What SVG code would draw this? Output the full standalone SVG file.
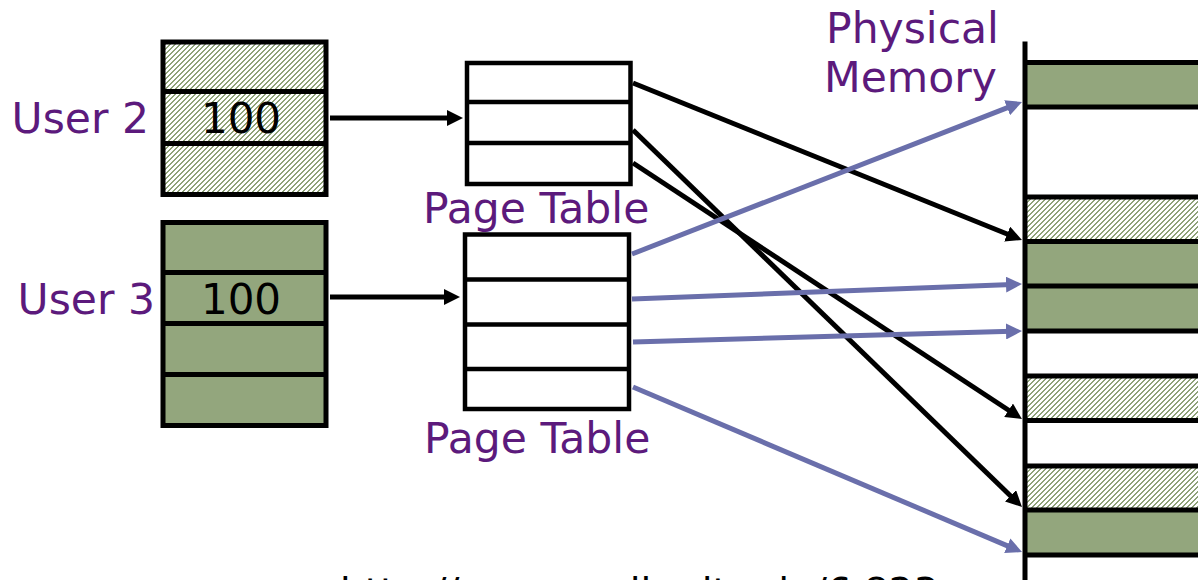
<svg xmlns="http://www.w3.org/2000/svg" width="1198" height="580" viewBox="0 0 1198 580">
  <style>
    .lbl { font-family: "DejaVu Sans", Verdana, sans-serif; font-size: 42.5px; fill: #5c1a7c; }
    .num { font-family: "DejaVu Sans", Verdana, sans-serif; font-size: 42px; fill: #000; }
    .url { font-family: "DejaVu Sans", Verdana, sans-serif; font-size: 39px; fill: #000; }
    .frame { fill: none; stroke: #000; stroke-width: 5; }
    .ptframe { fill: #fff; stroke: #000; stroke-width: 4.5; }
    .rule { stroke: #000; stroke-width: 5; }
    .ptrule { stroke: #000; stroke-width: 4.5; }
    .solid { fill: #93a67d; }
    .hatched { fill: url(#hatch); }
    .blk { stroke: #000; stroke-width: 5; fill: none; marker-end: url(#headBlack); }
    .blu { stroke: #6a6fab; stroke-width: 5; fill: none; marker-end: url(#headBlue); }
  </style>
  <defs>
    <!-- pixel-aligned diagonal stripes ("/") for shared/hatched pages -->
    <pattern id="hatch" x="0" y="0" width="5" height="5" patternUnits="userSpaceOnUse">
      <rect width="5" height="5" fill="#fff"/>
      <path d="M3,0h2v1h-2z M2,1h2v1h-2z M1,2h2v1h-2z M0,3h2v1h-2z M0,4h1v1h-1z M4,4h1v1h-1z" fill="#8fa378" shape-rendering="crispEdges"/>
    </pattern>
    <marker id="headBlack" markerUnits="userSpaceOnUse" markerWidth="16" markerHeight="16" viewBox="0 0 16 16" refX="6" refY="8" orient="auto">
      <path d="M0,0 L16,8 L0,16 z" fill="#000"/>
    </marker>
    <marker id="headBlue" markerUnits="userSpaceOnUse" markerWidth="16" markerHeight="16" viewBox="0 0 16 16" refX="6" refY="8" orient="auto">
      <path d="M0,0 L16,8 L0,16 z" fill="#6a6fab"/>
    </marker>
  </defs>

  <rect width="1198" height="580" fill="#fff"/>

  <!-- User 2 address space: three hatched pages -->
  <g id="user2">
    <rect x="163" y="42" width="163" height="152.5" class="hatched"/>
    <line x1="163" y1="91.5" x2="326" y2="91.5" class="rule"/>
    <line x1="163" y1="143.5" x2="326" y2="143.5" class="rule"/>
    <rect x="163" y="42" width="163" height="152.5" class="frame"/>
    <text x="241" y="133" text-anchor="middle" class="num">100</text>
    <text x="149" y="133" text-anchor="end" class="lbl">User 2</text>
  </g>

  <!-- User 3 address space: four solid pages -->
  <g id="user3">
    <rect x="163" y="222.5" width="163" height="203" class="solid"/>
    <line x1="163" y1="272.5" x2="326" y2="272.5" class="rule"/>
    <line x1="163" y1="323.5" x2="326" y2="323.5" class="rule"/>
    <line x1="163" y1="374.5" x2="326" y2="374.5" class="rule"/>
    <rect x="163" y="222.5" width="163" height="203" class="frame"/>
    <text x="241" y="314" text-anchor="middle" class="num">100</text>
    <text x="155" y="314" text-anchor="end" class="lbl">User 3</text>
  </g>

  <!-- Page table for User 2 -->
  <g id="pagetable2">
    <rect x="467" y="63" width="163.5" height="121" class="ptframe"/>
    <line x1="467" y1="102" x2="630.5" y2="102" class="ptrule"/>
    <line x1="467" y1="143" x2="630.5" y2="143" class="ptrule"/>
    <text x="423" y="223" class="lbl">Page Table</text>
  </g>

  <!-- Page table for User 3 -->
  <g id="pagetable3">
    <rect x="465" y="234.5" width="164" height="174.5" class="ptframe"/>
    <line x1="465" y1="279.5" x2="629" y2="279.5" class="ptrule"/>
    <line x1="465" y1="324.5" x2="629" y2="324.5" class="ptrule"/>
    <line x1="465" y1="369" x2="629" y2="369" class="ptrule"/>
    <text x="424" y="453" class="lbl">Page Table</text>
  </g>

  <!-- Physical memory frames -->
  <g id="physmem">
    <rect x="1025" y="62.5" width="180" height="44.5" class="solid"/>
    <rect x="1025" y="197" width="180" height="44.5" class="hatched"/>
    <rect x="1025" y="241.5" width="180" height="89.5" class="solid"/>
    <rect x="1025" y="376" width="180" height="44.5" class="hatched"/>
    <rect x="1025" y="466" width="180" height="44" class="hatched"/>
    <rect x="1025" y="510" width="180" height="45" class="solid"/>
    <line x1="1025" y1="62.5" x2="1205" y2="62.5" class="rule"/>
    <line x1="1025" y1="107" x2="1205" y2="107" class="rule"/>
    <line x1="1025" y1="197" x2="1205" y2="197" class="rule"/>
    <line x1="1025" y1="241.5" x2="1205" y2="241.5" class="rule"/>
    <line x1="1025" y1="286" x2="1205" y2="286" class="rule"/>
    <line x1="1025" y1="331" x2="1205" y2="331" class="rule"/>
    <line x1="1025" y1="376" x2="1205" y2="376" class="rule"/>
    <line x1="1025" y1="420.5" x2="1205" y2="420.5" class="rule"/>
    <line x1="1025" y1="466" x2="1205" y2="466" class="rule"/>
    <line x1="1025" y1="510" x2="1205" y2="510" class="rule"/>
    <line x1="1025" y1="555" x2="1205" y2="555" class="rule"/>
    <line x1="1025" y1="41.5" x2="1025" y2="585" class="rule"/>
    <text x="826" y="43" class="lbl">Physical</text>
    <text x="824" y="92" class="lbl">Memory</text>
  </g>

  <!-- Mappings -->
  <g id="connectors">
    <line x1="330" y1="118" x2="453" y2="118" class="blk"/>
    <line x1="330" y1="297" x2="450" y2="297" class="blk"/>
    <line x1="633" y1="83" x2="1012.7" y2="236.3" class="blk"/>
    <line x1="633" y1="130" x2="1014.8" y2="500" class="blk"/>
    <line x1="633" y1="163" x2="1013.6" y2="413.5" class="blk"/>
    <line x1="632" y1="254" x2="1012.7" y2="105.6" class="blu"/>
    <line x1="632" y1="299" x2="1012" y2="284.4" class="blu"/>
    <line x1="633" y1="342" x2="1012" y2="331.3" class="blu"/>
    <line x1="633" y1="387" x2="1012.8" y2="548.1" class="blu"/>
  </g>

  <text x="340" y="606" class="url">http://www.csail.mit.edu/6.823</text>
</svg>
